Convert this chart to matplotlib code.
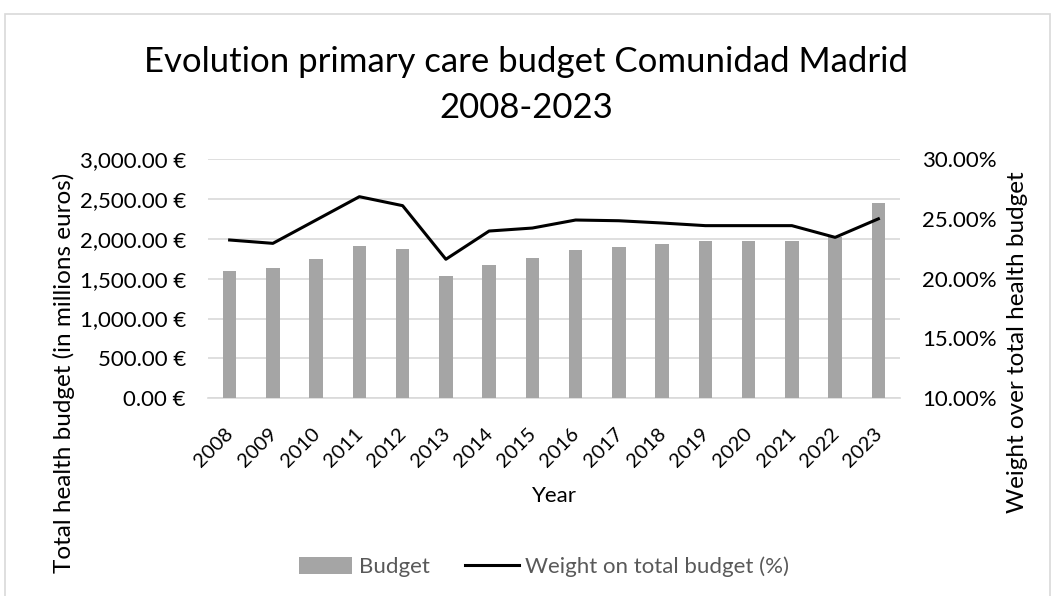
import matplotlib
matplotlib.use("Agg")
import matplotlib.pyplot as plt
from matplotlib.ticker import FuncFormatter, FixedLocator
from matplotlib.patches import Rectangle
from matplotlib.transforms import ScaledTranslation

years = [str(y) for y in range(2008, 2024)]
budget = [1593, 1634, 1747, 1910, 1868, 1534, 1668, 1759, 1856, 1897, 1935, 1976, 1976, 1976, 2019, 2449]
weight = [23.23, 22.95, 24.9, 26.85, 26.1, 21.62, 23.98, 24.23, 24.9, 24.84, 24.65, 24.43, 24.43, 24.43, 23.45, 25.0]

plt.rcParams['font.family'] = ['Lato', 'DejaVu Sans']

W, H = 1052, 596
fig = plt.figure(figsize=(W/100, H/100), dpi=100)
ax = fig.add_axes([208/W, 1-398.3/H, (900-208)/W, (398.3-159)/H])
ax2 = ax.twinx()

x = list(range(len(years)))
ax.bar(x, budget, width=0.31, color='#a5a5a5', zorder=3, label='Budget')
ax2.plot(x, weight, color='black', lw=2.2, zorder=4, label='Weight on total budget (%)')

ax.set_xlim(-0.5, len(years) - 0.5)
ax.set_ylim(0, 3000)
ax2.set_ylim(10, 30)
ax.yaxis.set_major_locator(FixedLocator([0, 500, 1000, 1500, 2000, 2500, 3000]))
ax2.yaxis.set_major_locator(FixedLocator([10, 15, 20, 25, 30]))
ax.yaxis.set_major_formatter(FuncFormatter(lambda v, p: f"{v:,.2f} €"))
ax2.yaxis.set_major_formatter(FuncFormatter(lambda v, p: f"{v:.2f}%"))
ax.grid(axis='y', color='#d9d9d9', lw=1.2, zorder=0)
ax.set_axisbelow(True)
for a in (ax, ax2):
    for s in a.spines.values():
        s.set_visible(False)
    a.tick_params(length=0, labelsize=16, colors='#000000')
ax.spines['bottom'].set_visible(True)
ax.spines['bottom'].set_color('#d9d9d9')
ax.spines['bottom'].set_linewidth(1.2)

ax.set_xticks(x)
ax.set_xticklabels(years, rotation=45, ha='right', rotation_mode='anchor', fontsize=14.5)
ax.tick_params(axis='x', pad=19)
ax.tick_params(axis='y', pad=16)
ax2.tick_params(axis='y', pad=16)
shift = ScaledTranslation(-5/100, 0, fig.dpi_scale_trans)
for lbl in ax.get_xticklabels():
    lbl.set_transform(lbl.get_transform() + shift)

fig.text(554/W, 1-496/H, 'Year', ha='center', va='center', fontsize=16)
fig.text(64/W, 1-373/H, 'Total health budget (in millions euros)', ha='center', va='center',
         rotation=90, fontsize=17.5)
fig.text(1018/W, 1-342/H, 'Weight over total health budget', ha='center', va='center',
         rotation=90, fontsize=17.5)

fig.text(0.5, 1-62/H, 'Evolution primary care budget Comunidad Madrid', ha='center', va='center', fontsize=25)
fig.text(0.5, 1-108/H, '2008-2023', ha='center', va='center', fontsize=25)

h1, l1 = ax.get_legend_handles_labels()
h2, l2 = ax2.get_legend_handles_labels()
leg = fig.legend(h1 + h2, l1 + l2, loc='center', bbox_to_anchor=(544/W, 1-567/H), ncol=2,
                 frameon=False, fontsize=16, handlelength=2.4, handleheight=0.75,
                 columnspacing=1.6, handletextpad=0.3)
for t in leg.get_texts():
    t.set_color('#595959')

fig.patches.append(Rectangle((5/W, -0.01), 1 - 7/W, 1 - 14/H + 0.01, transform=fig.transFigure,
                             fill=False, edgecolor='#d9d9d9', lw=1.2))

fig.savefig('out.png', dpi=100)
